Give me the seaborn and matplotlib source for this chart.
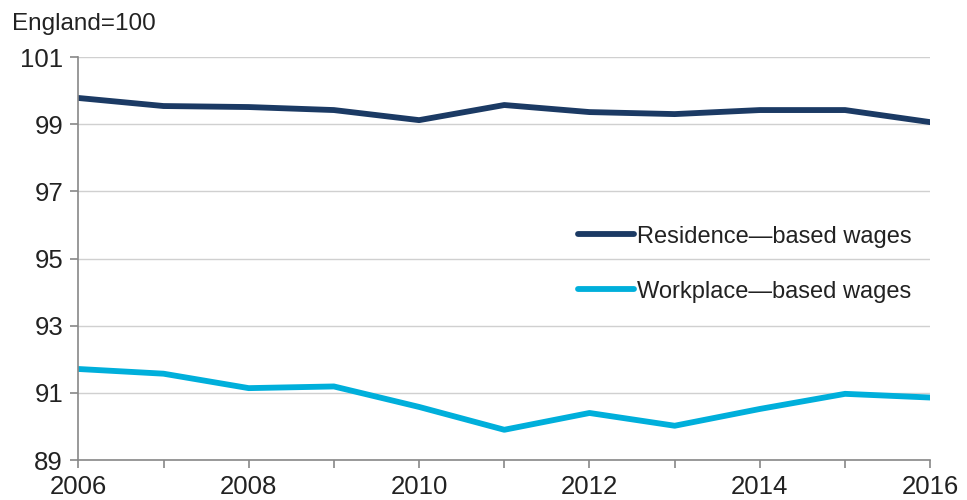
import pandas as pd
import numpy as np
import matplotlib.pyplot as plt
import seaborn as sns

years = [2006, 2007, 2008, 2009, 2010, 2011, 2012, 2013, 2014, 2015, 2016]
residence = [99.78, 99.54, 99.51, 99.42, 99.12, 99.57, 99.36, 99.30, 99.42, 99.42, 99.06]
workplace = [91.71, 91.57, 91.14, 91.19, 90.58, 89.90, 90.40, 90.02, 90.52, 90.97, 90.86]
series_names = ["Residence\u2014based wages", "Workplace\u2014based wages"]
palette = ["#1b3a64", "#00afdb"]

df = pd.DataFrame({
    "year": years * 2,
    "value": residence + workplace,
    "series": [series_names[0]] * len(years) + [series_names[1]] * len(years),
})

sns.set_theme(style="white")
plt.rcParams['font.family'] = ['Liberation Sans', 'DejaVu Sans']

fig = plt.figure(figsize=(9.67, 5), dpi=100)
ax = fig.add_axes([0.081, 0.08, 0.881, 0.806])

sns.lineplot(data=df, x="year", y="value", hue="series", palette=palette,
             linewidth=4.2, ax=ax, legend=True)

ax.set_xlim(2006, 2016)
ax.set_ylim(89, 101)
ax.set_yticks(np.arange(89, 102, 2))
ax.set_xticks(np.arange(2006, 2017, 2))
ax.set_xticks(years, minor=True)
ax.yaxis.grid(True, color="#d0d0d0", linewidth=1)
ax.set_axisbelow(True)
ax.set_xlabel("")
ax.set_ylabel("")

for s in ["top", "right"]:
    ax.spines[s].set_visible(False)
for s in ["left", "bottom"]:
    ax.spines[s].set_color("#888888")
    ax.spines[s].set_linewidth(1.2)

ax.tick_params(axis="both", which="both", direction="out", color="#888888",
               length=6, width=1.2, labelsize=18.5, labelcolor="#222222")
ax.tick_params(axis="x", which="major", bottom=True, pad=5)
ax.tick_params(axis="x", which="minor", bottom=True, length=6)
ax.tick_params(axis="y", left=True, pad=5)

fig.text(0.012, 0.94, "England=100", fontsize=17.5, color="#222222")

leg = ax.legend(loc="upper left", bbox_to_anchor=(0.575, 0.605), frameon=False,
                fontsize=17, labelspacing=1.4, handlelength=2.4, handletextpad=0.1,
                borderaxespad=0)
for t in leg.get_texts():
    t.set_color("#222222")

fig.savefig("out.png", dpi=100)
